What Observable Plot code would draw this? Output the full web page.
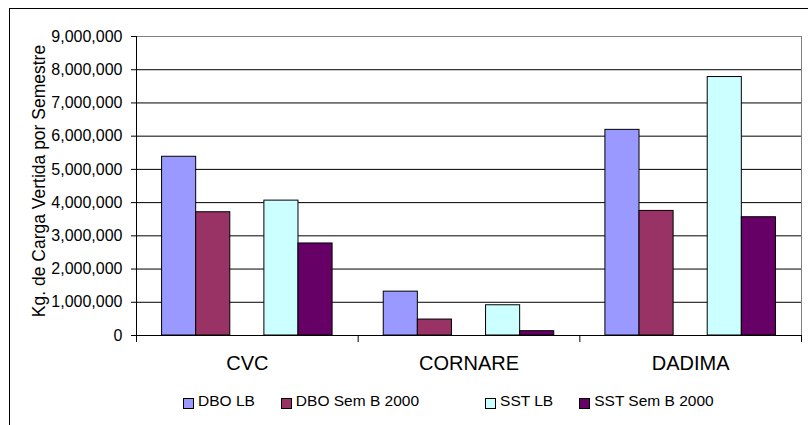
<!DOCTYPE html>
<html><head><meta charset="utf-8">
<script src="https://cdn.jsdelivr.net/npm/d3@7"></script>
<script src="https://cdn.jsdelivr.net/npm/@observablehq/plot@0.6"></script>
<style>
html,body{margin:0;padding:0;background:#fff;}
#wrap{position:relative;width:808px;height:425px;overflow:hidden;font-family:"Liberation Sans",Arial,sans-serif;color:#000;}
#border{position:absolute;left:9px;top:8px;width:820px;height:440px;border-left:1px solid #000;border-top:1px solid #000;pointer-events:none;}
#chart{position:absolute;left:0;top:0;}
#legend{position:absolute;left:183px;top:392px;display:flex;font-size:15.5px;line-height:18px;white-space:nowrap;}
.item{display:flex;align-items:center;margin-right:26px;}
.sw{width:11px;height:11px;box-sizing:border-box;border:1px solid #000;margin-right:4px;position:relative;top:2px;}
.spacer{width:40px;}
</style>
</head><body>
<div id="wrap"><div id="chart"></div><div id="legend"></div><div id="border"></div></div>
<script>
const categories = ["CVC", "CORNARE", "DADIMA"];
const series = ["DBO LB", "DBO Sem B 2000", "SST LB", "SST Sem B 2000"];
// Excel layout slots: an empty (blank) series sits between the DBO and SST pairs
const seriesSlots = ["DBO LB", "DBO Sem B 2000", "", "SST LB", "SST Sem B 2000"];
const colors = ["#9999FF", "#993366", "#CCFFFF", "#660066"];
const dboLB = [5380000, 1320000, 6190000];
const dboSemB2000 = [3710000, 480000, 3750000];
const sstLB = [4060000, 910000, 7780000];
const sstSemB2000 = [2770000, 130000, 3560000];
const yTicks = [0, 1000000, 2000000, 3000000, 4000000, 5000000, 6000000, 7000000, 8000000, 9000000];
const yLabel = "Kg. de Carga Vertida por Semestre";
const gapWidth = 1.5; // Excel gap width 150%

const valuesBySeries = {"DBO LB": dboLB, "DBO Sem B 2000": dboSemB2000, "SST LB": sstLB, "SST Sem B 2000": sstSemB2000};
const nSlots = seriesSlots.length;
const table = [];
categories.forEach((c, ci) => {
  seriesSlots.forEach((s, si) => {
    if (!s) return;
    const x1 = ci + (gapWidth / 2 + si) / (nSlots + gapWidth);
    table.push({category: c, series: s, value: valuesBySeries[s][ci], x1, x2: x1 + 1 / (nSlots + gapWidth)});
  });
});

const chart = Plot.plot({
  width: 808, height: 425,
  marginLeft: 136, marginRight: 7, marginTop: 36, marginBottom: 90,
  style: {fontFamily: "'Liberation Sans', Arial, sans-serif", background: "transparent", color: "#000"},
  x: {domain: [0, categories.length], axis: null},
  y: {domain: [0, 9000000], axis: null},
  color: {domain: series, range: colors},
  marks: [
    Plot.ruleY(yTicks.filter(d => d > 0 && d < 9000000), {stroke: "#000"}),
    Plot.ruleY([9000000], {stroke: "#808080"}),
    Plot.ruleX([categories.length], {y1: 0, y2: 9000000, stroke: "#808080"}),
    Plot.rect(table, {x1: "x1", x2: "x2", y1: 0, y2: "value", fill: "series", stroke: "#000", strokeWidth: 1}),
    Plot.ruleY([0], {stroke: "#000"}),
    Plot.ruleX([0], {y1: 0, y2: 9000000, stroke: "#000"}),
    Plot.axisY({ticks: yTicks, tickSize: 5, tickPadding: 9, tickFormat: d3.format(","), fontSize: 16, label: null}),
    Plot.text([yLabel], {frameAnchor: "left", rotate: -90, dx: -97, dy: -5, fontSize: 17.5, textAnchor: "middle"}),
    Plot.axisX({ticks: d3.range(categories.length + 1), tickSize: 7, tickFormat: () => "", label: null}),
    Plot.axisX({ticks: categories.map((c, i) => i + 0.5), tickSize: 0, tickPadding: 20, tickFormat: d => categories[Math.floor(d)], fontSize: 20, label: null})
  ]
});
document.getElementById("chart").appendChild(chart);

const legend = document.getElementById("legend");
seriesSlots.forEach(s => {
  if (!s) { const sp = document.createElement("div"); sp.className = "spacer"; legend.appendChild(sp); return; }
  const it = document.createElement("div"); it.className = "item";
  const sw = document.createElement("div"); sw.className = "sw"; sw.style.background = colors[series.indexOf(s)];
  const tx = document.createElement("span"); tx.textContent = s;
  it.appendChild(sw); it.appendChild(tx); legend.appendChild(it);
});
</script>
</body></html>
